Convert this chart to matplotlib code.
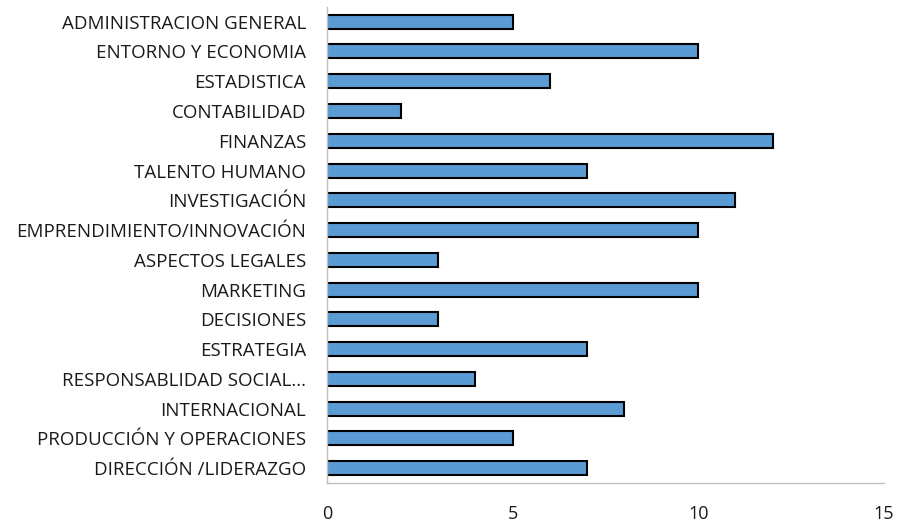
import matplotlib
matplotlib.use("Agg")
import matplotlib.pyplot as plt

categories = [
    "ADMINISTRACION GENERAL",
    "ENTORNO Y ECONOMIA",
    "ESTADISTICA",
    "CONTABILIDAD",
    "FINANZAS",
    "TALENTO HUMANO",
    "INVESTIGACIÓN",
    "EMPRENDIMIENTO/INNOVACIÓN",
    "ASPECTOS LEGALES",
    "MARKETING",
    "DECISIONES",
    "ESTRATEGIA",
    "RESPONSABLIDAD SOCIAL...",
    "INTERNACIONAL",
    "PRODUCCIÓN Y OPERACIONES",
    "DIRECCIÓN /LIDERAZGO",
]
values = [5, 10, 6, 2, 12, 7, 11, 10, 3, 10, 3, 7, 4, 8, 5, 7]
x_ticks = [0, 5, 10, 15]

plt.rcParams["font.family"] = ["Open Sans", "DejaVu Sans"]

fig = plt.figure(figsize=(9.03, 5.24), dpi=100)
ax = fig.add_axes([0.362, 0.078, 0.617, 0.909])

pos = list(range(len(categories)))
ax.barh(pos, values, height=0.47, color="#5B9BD5", edgecolor="black", linewidth=1.5)
ax.set_yticks(pos)
ax.set_yticklabels(categories, fontsize=13.5, color="#1a1a1a")
ax.set_ylim(len(categories) - 0.5, -0.5)
ax.set_xlim(0, 15)
ax.set_xticks(x_ticks)
ax.set_xticklabels([str(t) for t in x_ticks], fontsize=13, color="#1a1a1a")
ax.tick_params(axis="both", length=0)
ax.tick_params(axis="x", pad=16)
ax.tick_params(axis="y", pad=15)

for s in ["top", "right"]:
    ax.spines[s].set_visible(False)
for s in ["left", "bottom"]:
    ax.spines[s].set_color("#BFBFBF")
    ax.spines[s].set_linewidth(1)

fig.savefig("out.png", dpi=100)
